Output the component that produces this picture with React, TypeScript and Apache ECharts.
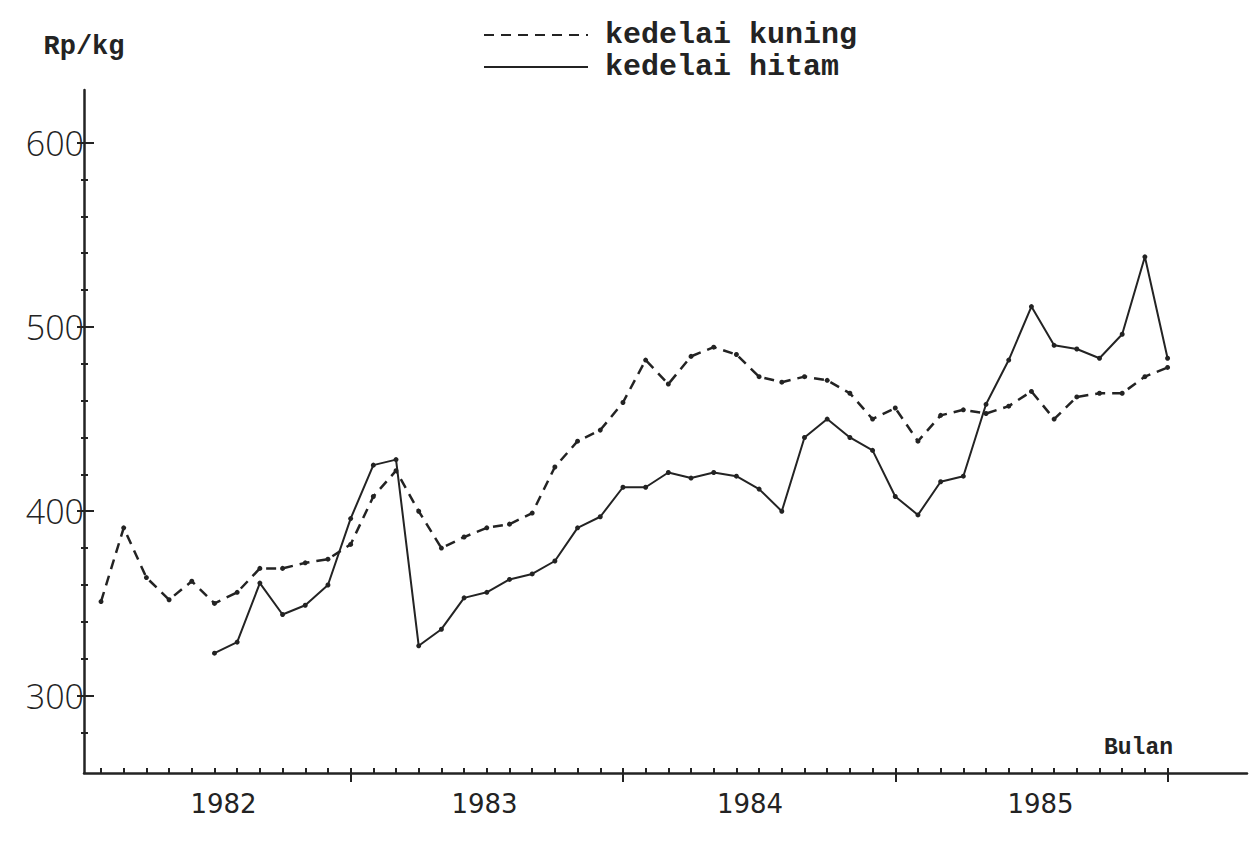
import React, { useEffect, useRef } from "react";
import * as echarts from "echarts";

// Monthly prices, Jan 1982 .. Dec 1985 (Rp/kg)
const years = ["1982", "1983", "1984", "1985"];
const kuning: (number | null)[] = [
  351, 391, 364, 352, 362, 350, 356, 369, 369, 372, 374, 382,
  408, 422, 400, 380, 386, 391, 393, 399, 424, 438, 444, 459,
  482, 469, 484, 489, 485, 473, 470, 473, 471, 464, 450, 456,
  438, 452, 455, 453, 457, 465, 450, 462, 464, 464, 473, 478,
];
const hitam: (number | null)[] = [
  null, null, null, null, null, 323, 329, 361, 344, 349, 360, 396,
  425, 428, 327, 336, 353, 356, 363, 366, 373, 391, 397, 413,
  413, 421, 418, 421, 419, 412, 400, 440, 450, 440, 433, 408,
  398, 416, 419, 458, 482, 511, 490, 488, 483, 496, 538, 483,
];
const yLabels = [300, 400, 500, 600];
const yMinorTicks = [280, 320, 340, 360, 380, 420, 440, 460, 480, 520, 540, 560, 580];
const yearLabelPos = [6.4, 17.9, 29.6, 42.4];

const INK = "#232323";

export default function App() {
  const ref = useRef<HTMLDivElement>(null);
  useEffect(() => {
    if (!ref.current) return;
    const chart = echarts.init(ref.current, undefined, { renderer: "svg" });
    const monthIdx = kuning.map((_, i) => i + 1);
    const majorX = years.map((_, k) => (k + 1) * 12);
    const yMin = 258, yMax = 628.5, xMin = 0.25, xMax = 51.5;

    const commonX = { type: "value", min: xMin, max: xMax, position: "bottom", offset: 0, splitLine: { show: false } };
    const commonY = { type: "value", min: yMin, max: yMax, position: "left", offset: 0, splitLine: { show: false } };

    chart.setOption({
      animation: false,
      backgroundColor: "#ffffff",
      grid: { left: 84, right: 6, top: 90, bottom: 72, containLabel: false },
      legend: {
        orient: "vertical",
        left: 478,
        top: 14,
        itemWidth: 104,
        itemHeight: 14,
        itemGap: 0,
        itemStyle: { opacity: 0 },
        textStyle: {
          fontFamily: "Liberation Mono",
          fontWeight: "bold",
          fontSize: 30,
          lineHeight: 32,
          color: INK,
          padding: [0, 0, 0, 12],
        },
        data: ["kedelai kuning", "kedelai hitam"],
      },
      xAxis: [
        {
          ...commonX,
          axisLine: { show: true, lineStyle: { color: INK, width: 2.5 } },
          axisTick: { show: true, customValues: majorX, length: 9, lineStyle: { color: INK, width: 2 } },
          axisLabel: {
            show: true,
            customValues: yearLabelPos,
            formatter: (v: number) => years[Math.floor(v / 12)] ?? "",
            fontFamily: "DejaVu Sans",
            fontSize: 26,
            color: INK,
            margin: 18,
          },
        },
        {
          ...commonX,
          axisLine: { show: false },
          axisTick: { show: true, inside: true, customValues: monthIdx, length: 5, lineStyle: { color: INK, width: 2 } },
          axisLabel: { show: false },
        },
      ],
      yAxis: [
        {
          ...commonY,
          name: "Rp/kg",
          nameLocation: "end",
          nameGap: 30,
          nameTextStyle: { fontFamily: "Liberation Mono", fontWeight: "bold", fontSize: 27, color: INK, align: "center" },
          axisLine: { show: true, lineStyle: { color: INK, width: 2.5 } },
          axisTick: { show: true, customValues: yLabels, length: 7, lineStyle: { color: INK, width: 2 } },
          axisLabel: {
            show: true,
            customValues: yLabels,
            fontFamily: "Open Sans",
            fontWeight: 300,
            fontSize: 34,
            color: INK,
            margin: 0,
          },
        },
        {
          ...commonY,
          axisLine: { show: false },
          axisTick: { show: true, inside: true, customValues: yLabels, length: 10, lineStyle: { color: INK, width: 2 } },
          axisLabel: { show: false },
        },
        {
          ...commonY,
          axisLine: { show: false },
          axisTick: { show: true, inside: true, customValues: yMinorTicks, length: 4, lineStyle: { color: INK, width: 2 } },
          axisLabel: { show: false },
        },
        {
          ...commonY,
          axisLine: { show: false },
          axisTick: { show: true, inside: false, customValues: yMinorTicks, length: 3, lineStyle: { color: INK, width: 2 } },
          axisLabel: { show: false },
        },
      ],
      series: [
        {
          name: "kedelai kuning",
          type: "line",
          xAxisIndex: 0,
          yAxisIndex: 0,
          data: kuning.map((v, i) => [monthIdx[i], v]),
          symbol: "circle",
          symbolSize: 5,
          itemStyle: { color: INK },
          lineStyle: { color: INK, width: 2.5, type: [10, 7] },
          connectNulls: false,
        },
        {
          name: "kedelai hitam",
          type: "line",
          xAxisIndex: 0,
          yAxisIndex: 0,
          data: hitam.map((v, i) => [monthIdx[i], v]),
          symbol: "circle",
          symbolSize: 5,
          itemStyle: { color: INK },
          lineStyle: { color: INK, width: 2 },
          connectNulls: false,
        },
      ],
      graphic: [
        {
          type: "text",
          left: 1104,
          top: 736,
          style: { text: "Bulan", fontFamily: "Liberation Mono", fontWeight: "bold", fontSize: 23, fill: INK },
        },
      ],
    });
    return () => chart.dispose();
  }, []);
  return <div ref={ref} style={{ width: 1253, height: 845, position: "absolute", left: 0, top: 0 }} />;
}
